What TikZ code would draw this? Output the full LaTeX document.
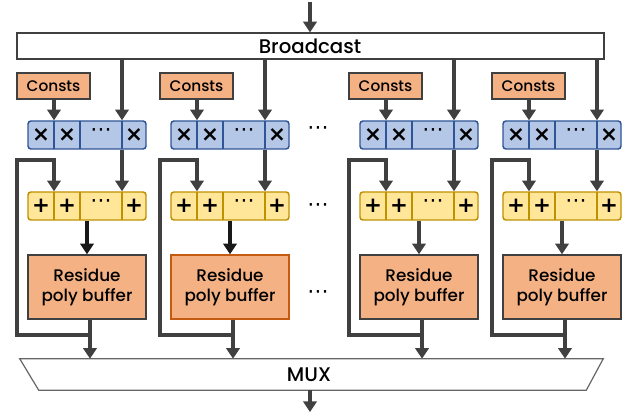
\documentclass[tikz,border=0pt]{standalone}
\usepackage{fontspec}
\IfFontExistsTF{Poppins Medium}{\setmainfont{Poppins Medium}}{\setmainfont{Poppins}}
\newfontfamily\symfont{DejaVu Sans}
\usetikzlibrary{arrows.meta,calc}
\definecolor{lineg}{HTML}{404040}
\definecolor{bluef}{HTML}{B4C7E7}
\definecolor{blued}{HTML}{2F5597}
\definecolor{yelf}{HTML}{FFE699}
\definecolor{yeld}{HTML}{BF9000}
\definecolor{orf}{HTML}{F4B183}
\definecolor{ord}{HTML}{C55A11}
\tikzset{
  px/.style={x=0.75pt,y=-0.75pt},
  wire/.style={draw=lineg,line width=2.3pt},
  arr/.style={wire,-{Triangle[width=10pt,length=8pt]}},
  blk/.style={draw=black!90,line width=2.3pt,-{Triangle[width=10pt,length=8pt]}},
  constbox/.style={draw=lineg,fill=orf,line width=1.1pt,minimum width=54.75pt,minimum height=19.5pt,inner sep=0pt,font=\fontsize{11.5}{12}\selectfont},
  mulrow/.style={draw=blued,fill=bluef,line width=1.1pt,rounded corners=2.2pt,minimum width=88.5pt,minimum height=21pt,inner sep=0pt},
  addrow/.style={draw=yeld,fill=yelf,line width=1.1pt,rounded corners=2.2pt,minimum width=88.5pt,minimum height=21pt,inner sep=0pt},
  bufbox/.style={draw=lineg,fill=orf,line width=1.1pt,minimum width=88.5pt,minimum height=48pt,inner sep=0pt,align=center,font=\fontsize{12.6}{15}\selectfont},
  sym/.style={inner sep=0pt,font=\symfont\bfseries\fontsize{16}{16}\selectfont},
  dotsym/.style={inner sep=0pt,font=\symfont\fontsize{16}{16}\selectfont},
  bigtext/.style={inner sep=0pt,font=\fontsize{14.8}{16}\selectfont},
}
\begin{document}
\begin{tikzpicture}[px]
\useasboundingbox (0,0) rectangle (629,413);
% Broadcast
\node[draw=lineg,fill=white,line width=0.9pt,minimum width=440.25pt,minimum height=19.5pt,inner sep=0pt] (bc) at (310.5,46) {};
\node[bigtext] (bctext) at (310,46) {Broadcast};
\coordinate (topin) at (310,2);
\draw[arr] (topin) -- (topin |- bc.north);
% MUX
\node[minimum width=437.25pt,minimum height=23.25pt,inner sep=0pt] (muxbox) at (311.5,374.5) {};
\draw[draw=lineg!80,line width=0.9pt,fill=white] (muxbox.north west) -- (muxbox.north east) -- ([xshift=-12.75pt]muxbox.south east) -- ([xshift=14.25pt]muxbox.south west) -- cycle;
\node[bigtext] (muxtext) at (309,375) {MUX};
\coordinate (botout) at (310,412);
\draw[arr] (muxbox.south -| botout) -- (botout);
% columns
\foreach \c/\i/\bufd/\pb in {28/1/lineg/blk,171/2/ord/blk,360/3/lineg/arr,503/4/lineg/arr}{
  \node[constbox] (k\i) at (\c+25.5,86) {Consts};
  \node[mulrow] (m\i) at (\c+59,135) {};
  \draw[blued,line width=1.1pt] (\c+26,121) -- (\c+26,149) (\c+52,121) -- (\c+52,149) (\c+94,121) -- (\c+94,149);
  \node[sym] (mx\i a) at (\c+13,135) {×};
  \node[sym] (mx\i b) at (\c+39,135) {×};
  \node[dotsym] (mx\i c) at (\c+73,133) {⋯};
  \node[sym] (mx\i d) at (\c+106,135) {×};
  \node[addrow] (a\i) at (\c+59,206) {};
  \draw[yeld,line width=1.1pt] (\c+26,192) -- (\c+26,220) (\c+52,192) -- (\c+52,220) (\c+94,192) -- (\c+94,220);
  \node[sym] (ap\i a) at (\c+13,206) {+};
  \node[sym] (ap\i b) at (\c+39,206) {+};
  \node[dotsym] (ap\i c) at (\c+73,204) {⋯};
  \node[sym] (ap\i d) at (\c+106,206) {+};
  \node[bufbox,draw=\bufd] (b\i) at (\c+59,287) {Residue\\poly buffer};
  % arrows
  \coordinate (kx\i) at (\c+26,0);
  \coordinate (bx\i) at (\c+94,0);
  \coordinate (ox\i) at (\c+62,0);
  \coordinate (lx\i) at (\c-11,0);
  \draw[arr] (k\i.south -| kx\i) -- (m\i.north -| kx\i);
  \draw[arr] (bc.south -| bx\i) -- (m\i.north -| bx\i);
  \draw[arr] (m\i.south -| bx\i) -- (a\i.north -| bx\i);
  \draw[\pb] (a\i.south) -- (b\i.north);
  \draw[arr] (b\i.south -| ox\i) -- (muxbox.north -| ox\i);
  \draw[arr]
    ($(ox\i)+(0,335)$) -- ($(lx\i)+(0,335)$) -- ($(lx\i)+(0,160)$) -- ($(kx\i)+(0,160)$) -- (a\i.north -| kx\i);
}
% dots between columns
\node[dotsym] (d1) at (318,131) {⋯};
\node[dotsym] (d2) at (318,208) {⋯};
\node[dotsym] (d3) at (318,295) {⋯};
\end{tikzpicture}
\end{document}
